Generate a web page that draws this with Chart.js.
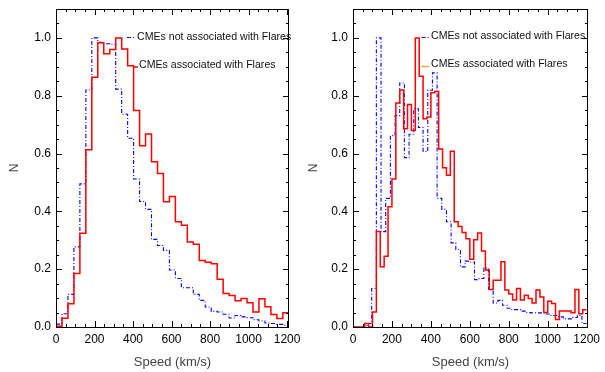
<!DOCTYPE html>
<html>
<head>
<meta charset="utf-8">
<script src="https://cdn.jsdelivr.net/npm/chart.js@4.4.1/dist/chart.umd.min.js"></script>
<style>
  html, body { margin: 0; padding: 0; background: #fff; }
  #wrap { position: relative; width: 605px; height: 372px; }
  canvas { position: absolute; top: 0; }
</style>
</head>
<body>
<div id="wrap">
  <canvas id="leftChart" width="300" height="372" style="left:0"></canvas>
  <canvas id="rightChart" width="305" height="372" style="left:300px"></canvas>
</div>
<script>
const leftBinWidth = 31;
const rightFlareBinWidth = 20;
const rightNoFlareBinWidth = 24;

// left panel, normalised counts per bin
const leftFlare = [0.003, 0.03, 0.08, 0.185, 0.324, 0.613, 0.864, 0.983, 0.945, 0.96,
    1.0, 0.962, 0.904, 0.749, 0.627, 0.668, 0.572, 0.531, 0.433, 0.451,
    0.364, 0.352, 0.294, 0.286, 0.230, 0.224, 0.219, 0.165, 0.116, 0.109,
    0.091, 0.099, 0.084, 0.052, 0.098, 0.070, 0.043, 0.029, 0.049];
const leftNoFlare = [0.01, 0.046, 0.113, 0.277, 0.495, 0.82, 1.0, 0.985, 0.98, 0.978,
    0.823, 0.736, 0.653, 0.512, 0.434, 0.407, 0.303, 0.282, 0.265, 0.197,
    0.168, 0.136, 0.136, 0.113, 0.092, 0.069, 0.054, 0.052, 0.044, 0.031,
    0.04, 0.035, 0.032, 0.025, 0.021, 0.014, 0.012, 0.009, 0.006];

// right panel
const rightFlare = [0, 0, 0, 0.012, 0, 0.052, 0.33, 0.208, 0.245, 0.416,
    0.512, 0.775, 0.82, 0.686, 0.77, 0.68, 1.0, 0.867, 0.72, 0.726,
    0.81, 0.815, 0.616, 0.551, 0.525, 0.608, 0.364, 0.348, 0.327, 0.305,
    0.234, 0.302, 0.325, 0.263, 0.197, 0.13, 0.162, 0.162, 0.226, 0.128,
    0.114, 0.093, 0.133, 0.093, 0.11, 0.099, 0.083, 0.128, 0.104, 0.05,
    0.089, 0.081, 0.026, 0.055, 0.055, 0.055, 0.049, 0.13, 0.046, 0.06];
const rightNoFlare = [0, 0, 0, 0.012, 0.133, 1.0, 0.33, 0.445, 0.662, 0.731,
    0.844, 0.586, 0.667, 0.755, 0.69, 0.607, 0.819, 0.879, 0.445, 0.407,
    0.364, 0.291, 0.268, 0.208, 0.228, 0.225, 0.164, 0.168, 0.204, 0.13,
    0.083, 0.092, 0.075, 0.065, 0.06, 0.06, 0.055, 0.05, 0.049, 0.049,
    0.049, 0.045, 0.04, 0.04, 0.035, 0.028, 0.028, 0.033, 0.04, 0.012];

const xTickValues = [0, 200, 400, 600, 800, 1000, 1200];
const yTickValues = [0, 0.2, 0.4, 0.6, 0.8, 1.0];
const legendLabels = ['CMEs not associated with Flares', 'CMEs associated with Flares'];

const FONT = '"Liberation Sans", Arial, Helvetica, sans-serif';
Chart.defaults.font.family = FONT;

// histogram bins -> points for a stepped line (closing point at the last bin edge)
function stepPoints(values, width) {
    const pts = values.map((v, i) => ({ x: i * width, y: v }));
    pts.push({ x: values.length * width, y: values[values.length - 1] });
    return pts;
}

// IDL-like box: frame plus inward major/minor ticks on all four sides, and the in-plot legend
const idlBox = {
    id: 'idlBox',
    afterDatasetsDraw(chart, args, opts) {
        const { ctx, chartArea: a, scales: { x, y } } = chart;
        ctx.save();
        ctx.strokeStyle = '#000';
        ctx.lineWidth = 1;
        ctx.strokeRect(a.left + 0.5, a.top + 0.5, a.right - a.left - 1, a.bottom - a.top);

        ctx.beginPath();
        for (let v = 0; v <= x.max; v += 50) {
            const px = Math.round(x.getPixelForValue(v)) + 0.5;
            const len = v % 200 === 0 ? 6 : 3;
            ctx.moveTo(px, a.bottom); ctx.lineTo(px, a.bottom - len);
            ctx.moveTo(px, a.top); ctx.lineTo(px, a.top + len);
        }
        for (let i = 0; i * 0.05 <= y.max + 1e-9; i++) {
            const py = Math.round(y.getPixelForValue(i * 0.05)) + 0.5;
            const len = i % 4 === 0 ? 6 : 3;
            ctx.moveTo(a.left, py); ctx.lineTo(a.left + len, py);
            ctx.moveTo(a.right, py); ctx.lineTo(a.right - len, py);
        }
        ctx.stroke();

        // legend
        ctx.font = '10.6px ' + FONT;
        ctx.textBaseline = 'alphabetic';
        ctx.textAlign = 'left';
        opts.items.forEach((it, i) => {
            const ds = chart.data.datasets[it.dataset];
            ctx.strokeStyle = it.color || ds.borderColor;
            ctx.lineWidth = ds.borderWidth;
            ctx.setLineDash(ds.borderDash || []);
            ctx.beginPath();
            ctx.moveTo(it.x0, it.y); ctx.lineTo(it.x1, it.y);
            ctx.stroke();
            ctx.setLineDash([]);
            ctx.fillStyle = '#111';
            ctx.fillText(legendLabels[i], it.tx, it.ty);
        });
        ctx.restore();
    }
};

function makeChart(id, flare, flareWidth, noFlare, noFlareWidth, xMax, axisWidth, padRight, titlePad, legendItems) {
    return new Chart(document.getElementById(id), {
        type: 'line',
        data: {
            datasets: [{
                label: legendLabels[1],
                data: stepPoints(flare, flareWidth),
                borderColor: '#ff0000',
                borderWidth: 1.5,
                stepped: 'before',   // hold each bin's value until the next edge
                pointRadius: 0,
                fill: false
            }, {
                label: legendLabels[0],
                data: stepPoints(noFlare, noFlareWidth),
                borderColor: '#0000ff',
                borderWidth: 1.1,
                borderDash: [4, 2, 1, 2],
                stepped: 'before',
                pointRadius: 0,
                fill: false
            }]
        },
        options: {
            responsive: false,
            animation: false,
            devicePixelRatio: 1,
            parsing: false,
            layout: { autoPadding: false, padding: { left: 0, right: padRight, top: 9, bottom: 0 } },
            plugins: {
                legend: { display: false },
                tooltip: { enabled: false },
                idlBox: { items: legendItems }
            },
            scales: {
                x: {
                    type: 'linear',
                    min: 0,
                    max: xMax,
                    afterBuildTicks: s => { s.ticks = xTickValues.map(v => ({ value: v })); },
                    afterFit: s => { s.height = 45; s.paddingLeft = 0; s.paddingRight = 0; },
                    grid: { display: false, drawTicks: false },
                    border: { display: false },
                    ticks: {
                        color: '#000', font: { size: 12 }, padding: 5,
                        maxRotation: 0, autoSkip: false, callback: v => String(v)
                    },
                    title: {
                        display: true, text: 'Speed (km/s)', color: '#444',
                        font: { size: 13 }, padding: { top: 0, bottom: 2 }
                    }
                },
                y: {
                    type: 'linear',
                    min: 0,
                    max: 1.1,
                    afterBuildTicks: s => { s.ticks = yTickValues.map(v => ({ value: v })); },
                    afterFit: s => { s.width = axisWidth; s.paddingTop = 0; s.paddingBottom = 0; },
                    grid: { display: false, drawTicks: false },
                    border: { display: false },
                    ticks: {
                        color: '#000', font: { size: 12 }, padding: 5,
                        callback: v => Number(v).toFixed(1)
                    },
                    title: {
                        display: true, text: 'N', color: '#444',
                        font: { size: 12 }, padding: { top: titlePad, bottom: 0 }
                    }
                }
            }
        },
        plugins: [idlBox]
    });
}

makeChart('leftChart', leftFlare, leftBinWidth, leftNoFlare, leftBinWidth, 1210, 56, 11, 7, [
    { dataset: 1, x0: 127, x1: 136, y: 37.5, tx: 137, ty: 39.5 },
    { dataset: 0, x0: 134, x1: 138, y: 67, tx: 139, ty: 67.5 }
]);

makeChart('rightChart', rightFlare, rightFlareBinWidth, rightNoFlare, rightNoFlareBinWidth, 1207, 53, 17, 6, [
    { dataset: 1, x0: 121.5, x1: 130, y: 37.5, tx: 131, ty: 39 },
    { dataset: 0, color: '#f6a35e', x0: 121.5, x1: 129.5, y: 66.5, tx: 131, ty: 67 }
]);
</script>
</body>
</html>
